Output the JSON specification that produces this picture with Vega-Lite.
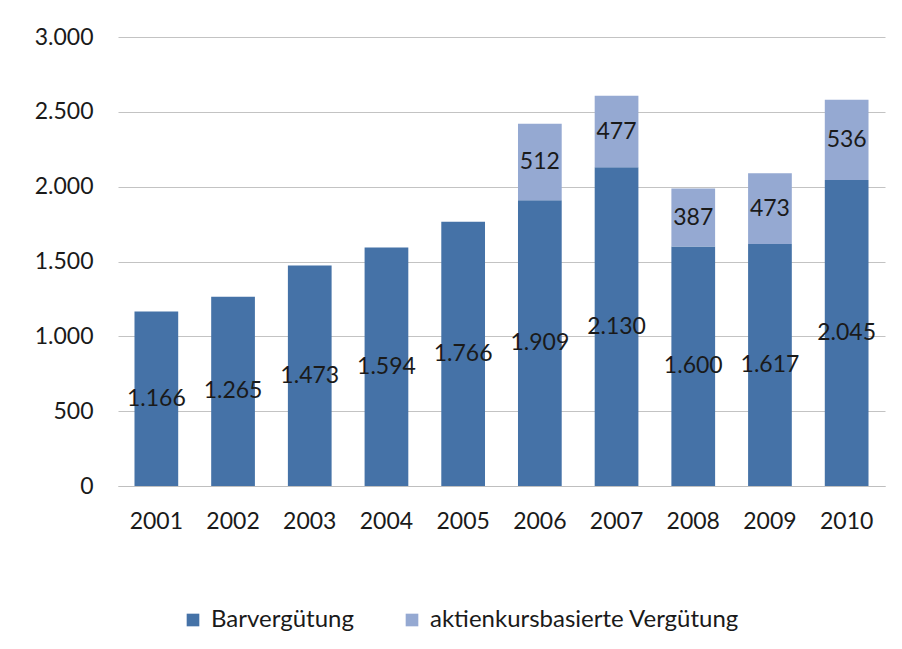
{
  "$schema": "https://vega.github.io/schema/vega-lite/v6.json",
  "width": 767,
  "height": 449,
  "autosize": {"type": "none"},
  "padding": {"left": 118, "top": 37, "right": 17, "bottom": 163},
  "background": "white",
  "config": {
    "locale": {"number": {"decimal": ",", "thousands": ".", "grouping": [3], "currency": ["", " €"]}},
    "view": {"stroke": null},
    "font": "Lato"
  },
  "data": {
    "values": [
      {"year": "2001", "type": "Barvergütung", "value": 1166},
      {"year": "2002", "type": "Barvergütung", "value": 1265},
      {"year": "2003", "type": "Barvergütung", "value": 1473},
      {"year": "2004", "type": "Barvergütung", "value": 1594},
      {"year": "2005", "type": "Barvergütung", "value": 1766},
      {"year": "2006", "type": "Barvergütung", "value": 1909},
      {"year": "2007", "type": "Barvergütung", "value": 2130},
      {"year": "2008", "type": "Barvergütung", "value": 1600},
      {"year": "2009", "type": "Barvergütung", "value": 1617},
      {"year": "2010", "type": "Barvergütung", "value": 2045},
      {"year": "2006", "type": "aktienkursbasierte Vergütung", "value": 512},
      {"year": "2007", "type": "aktienkursbasierte Vergütung", "value": 477},
      {"year": "2008", "type": "aktienkursbasierte Vergütung", "value": 387},
      {"year": "2009", "type": "aktienkursbasierte Vergütung", "value": 473},
      {"year": "2010", "type": "aktienkursbasierte Vergütung", "value": 536}
    ]
  },
  "transform": [
    {"stack": "value", "groupby": ["year"], "sort": [{"field": "type", "order": "ascending"}], "as": ["y0", "y1"]},
    {"calculate": "(datum.y0 + datum.y1) / 2", "as": "labelPos"}
  ],
  "encoding": {
    "x": {
      "field": "year", "type": "ordinal",
      "scale": {"paddingInner": 0.43, "paddingOuter": 0.215},
      "axis": {"title": null, "labelAngle": 0, "labelFontSize": 23, "labelColor": "#1a1a1a", "labelPadding": 24, "ticks": false, "domainColor": "#bfbfbf", "domainWidth": 1, "labelFont": "Lato"}
    }
  },
  "layer": [
    {
      "mark": {"type": "bar"},
      "encoding": {
        "y": {
          "field": "y0", "type": "quantitative",
          "scale": {"domain": [0, 3000], "nice": false},
          "axis": {"title": null, "values": [0, 500, 1000, 1500, 2000, 2500, 3000], "format": ",d", "labelFontSize": 23, "labelColor": "#1a1a1a", "labelPadding": 25, "ticks": false, "domain": false, "gridColor": "#c3c3c3", "gridWidth": 1, "labelFont": "Lato"}
        },
        "y2": {"field": "y1"},
        "color": {
          "field": "type", "type": "nominal",
          "scale": {"domain": ["Barvergütung", "aktienkursbasierte Vergütung"], "range": ["#4572A7", "#95A9D2"]},
          "legend": {
            "title": null, "orient": "none", "direction": "horizontal",
            "legendX": 63, "legendY": 571,
            "symbolType": "square", "symbolSize": 160, "symbolStrokeWidth": 0, "symbolOpacity": 1,
            "labelFontSize": 24, "labelColor": "#1a1a1a", "labelFont": "Lato", "labelLimit": 500,
            "columnPadding": 46, "labelOffset": 6
          }
        }
      }
    },
    {
      "mark": {"type": "text", "fontSize": 23, "color": "#1a1a1a", "baseline": "middle", "font": "Lato"},
      "encoding": {
        "y": {"field": "labelPos", "type": "quantitative"},
        "text": {"field": "value", "type": "quantitative", "format": ",d"}
      }
    }
  ]
}
